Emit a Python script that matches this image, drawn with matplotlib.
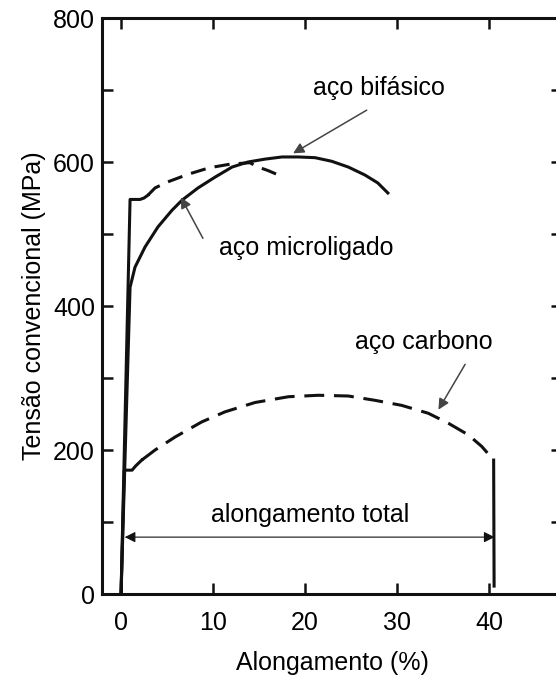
import matplotlib
matplotlib.use("Agg")
import matplotlib.pyplot as plt
import numpy as np

plt.rcParams['font.family'] = ['Liberation Sans', 'DejaVu Sans']
plt.rcParams['font.size'] = 18

# curvas tensao x deformacao (alongamento %, MPa)
bif_strain = [0, 0.98, 1.52, 2.61, 4.02, 5.54, 6.63, 8.37, 10.22, 12.07, 13.8,
              15.65, 17.5, 19.24, 21.09, 22.9, 24.7, 26.5, 27.9, 29.0]
bif_stress = [0, 426, 454, 482, 510, 533, 547, 564, 579, 593, 600,
              604, 607, 607, 606, 601, 593, 582, 571, 557]

micro_yield_strain = [0, 0.98, 2.07, 2.5, 2.93]
micro_yield_stress = [0, 548, 548, 550, 554]
micro_strain = [2.93, 3.7, 5.0, 7.3, 9.6, 11.85, 14.0, 14.9, 16.0, 17.1]
micro_stress = [554, 564, 572, 583, 592, 597, 599, 593, 588, 582]

carb_yield_strain = [0, 0.35, 1.2, 1.6, 2.25]
carb_yield_stress = [0, 172, 172, 178, 186]
carb_strain = [2.25, 3.7, 5.87, 8.77, 11.3, 14.57, 18.2, 21.45, 24.7, 27.6,
               30.5, 33.4, 35.6, 37.75, 39.2, 40.5]
carb_stress = [186, 200, 218, 239, 253, 266, 274, 276, 275, 269,
               262, 251, 237, 221, 205, 186]
carb_break_strain = [40.5, 40.55]
carb_break_stress = [186, 11]

total_elong = [0.4, 40.6]
total_elong_y = 79

xticks = [0, 10, 20, 30, 40]
yticks = [0, 200, 400, 600, 800]
yticks_minor = [100, 300, 500, 700]

fig = plt.figure(figsize=(5.56, 6.76), dpi=100)
ax = fig.add_axes([102/556, 1 - 594/676, 460/556, 576/676])

lw = 2.2
ink = '#111111'
ax.plot(bif_strain, bif_stress, color=ink, lw=lw, solid_joinstyle='round')
ax.plot(micro_yield_strain, micro_yield_stress, color=ink, lw=lw)
ax.plot(micro_strain, micro_stress, color=ink, lw=lw, dashes=(5, 3))
ax.plot(carb_yield_strain, carb_yield_stress, color=ink, lw=lw)
ax.plot(carb_strain, carb_stress, color=ink, lw=lw, dashes=(6.5, 3.2))
ax.plot(carb_break_strain, carb_break_stress, color=ink, lw=lw)

# seta do alongamento total
ax.annotate('', xy=(total_elong[1], total_elong_y), xytext=(total_elong[0], total_elong_y),
            arrowprops=dict(arrowstyle='<|-|>', lw=0.8, color=ink,
                            mutation_scale=16, shrinkA=0, shrinkB=0))
ax.text(20.5, 110, 'alongamento total', ha='center', va='center')

arrow_kw = dict(arrowstyle='-|>', lw=1.1, color='#444444', mutation_scale=16,
                shrinkA=0, shrinkB=0)
ax.text(28.0, 703, 'aço bifásico', ha='center', va='center')
ax.annotate('', xy=(18.7, 612), xytext=(26.7, 672), arrowprops=arrow_kw)
ax.text(20.1, 481, 'aço microligado', ha='center', va='center')
ax.annotate('', xy=(6.5, 551), xytext=(8.9, 494), arrowprops=arrow_kw)
ax.text(32.9, 350, 'aço carbono', ha='center', va='center')
ax.annotate('', xy=(34.5, 256), xytext=(37.4, 319), arrowprops=arrow_kw)

ax.set_xlim(-2.07, 47.93)
ax.set_ylim(0, 800)
ax.set_xticks(xticks)
ax.set_yticks(yticks)
ax.set_yticks(yticks_minor, minor=True)
ax.tick_params(which='both', direction='in', length=8, width=1.8,
               top=True, right=True, color=ink)
ax.tick_params(axis='x', pad=12)
ax.tick_params(axis='y', pad=5)
for s in ax.spines.values():
    s.set_linewidth(2.2)
    s.set_color(ink)

ax.set_xlabel('Alongamento (%)', labelpad=12)
ax.set_ylabel('Tensão convencional (MPa)', labelpad=5)

fig.savefig('out.png', dpi=100)
